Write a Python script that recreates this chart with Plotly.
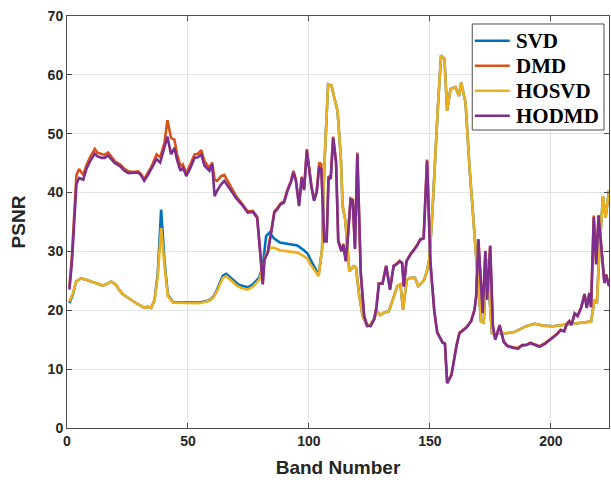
import plotly.graph_objects as go

# ---- PSNR per spectral band for the four decomposition methods ----
bands_hodmd = [1, 2, 3.9, 5, 6.7, 8, 9.5, 11.5, 12.5, 14.3, 15.5, 17, 18, 19.8, 21.9, 23.5,
               25.3, 27.5, 29.4, 30.5, 31.9, 33.5, 34.9, 37, 38.5, 40.3, 41.5, 43, 44.4, 45.5,
               46.9, 47.9, 49.3, 51, 52.7, 54.1, 55.5, 56.8, 58.9, 60, 61, 62, 63.7, 65, 67.8,
               70, 72, 74.7, 76.8, 78.6, 79.8, 80.9, 81.6, 83, 84.3, 85.7, 87, 88.3, 89.7, 91.1,
               92.5, 93.6, 94.6, 95.9, 97, 98, 99.1, 100.1, 101, 102.1, 103.2, 104.2, 105.1,
               106.3, 107.3, 108.1, 109, 110, 111.2, 112.1, 113.4, 114.2, 115.2, 116.2, 117.2,
               118.1, 119, 120, 121.4, 122.8, 124, 125.5, 127, 127.9, 128.9, 130.4, 131.9,
               133.5, 135, 136.2, 137.5, 138.5, 139.2, 140.3, 142, 143.5, 144.7, 146, 147.4,
               148.8, 150.2, 151.8, 153, 155.2, 156.2, 157.1, 158.9, 161, 162.2, 165, 167,
               168.4, 169.1, 170, 171.1, 171.8, 172.9, 173.6, 174.9, 176, 177, 178.8, 180.5,
               182, 184.5, 186.5, 188, 190, 191.5, 193, 195.3, 197.5, 199.5, 201, 202.5, 204,
               205.5, 206.5, 207.6, 208.5, 209.8, 211, 212.5, 213.9, 214.8, 215.9, 216.6,
               217.7, 218.7, 219.7, 221.1, 222.1, 222.8, 224]

hodmd = [23.5, 28.0, 41.4, 42.5, 42.2, 44.0, 45.3, 46.6, 46.2, 45.9, 45.9, 46.3, 45.8, 45.0,
         44.5, 43.8, 43.3, 43.3, 43.4, 43.0, 42.0, 43.0, 44.0, 45.7, 45.1, 47.5, 49.5, 46.5,
         47.6, 45.5, 43.7, 44.2, 42.8, 44.2, 45.9, 46.0, 46.5, 44.6, 43.7, 44.8, 39.4, 40.3,
         41.4, 42.0, 40.3, 39.0, 38.1, 36.6, 36.7, 35.7, 30.0, 24.4, 28.6, 29.8, 33.0, 36.6,
         37.2, 38.0, 38.3, 40.3, 41.7, 43.4, 42.0, 37.7, 42.5, 40.4, 47.1, 43.7, 41.0, 38.6,
         40.0, 44.2, 44.0, 31.7, 31.7, 42.6, 42.3, 49.3, 45.1, 31.7, 30.0, 31.1, 28.3, 33.0,
         38.8, 38.6, 30.4, 46.5, 26.3, 19.0, 17.4, 17.3, 18.5, 20.5, 24.5, 24.5, 27.5, 23.5,
         27.5, 27.8, 28.3, 28.0, 24.0, 28.3, 29.5, 30.3, 31.0, 32.0, 32.2, 45.4, 28.0, 19.8,
         16.2, 14.5, 14.3, 7.6, 9.0, 14.0, 16.1, 17.0, 18.1, 20.0, 22.3, 32.0, 24.6, 19.5,
         30.0, 21.8, 30.9, 17.3, 15.0, 17.4, 14.6, 13.9, 13.6, 13.5, 14.0, 14.1, 14.4, 14.2,
         13.8, 14.3, 14.9, 15.3, 15.9, 16.6, 16.4, 17.6, 18.1, 17.5, 19.4, 19.0, 20.4, 22.7,
         20.4, 22.9, 20.5, 35.8, 27.8, 36.0, 28.6, 24.6, 26.0, 24.1]

dmd = [24.0, 29.0, 43.0, 44.0, 43.0, 44.6, 46.0, 47.4, 46.8, 46.5, 46.4, 46.8, 46.2, 45.3,
       44.8, 44.1, 43.6, 43.5, 43.6, 43.2, 42.3, 43.3, 44.4, 46.5, 46.0, 48.5, 52.3, 49.3,
       49.0, 46.5, 44.5, 44.8, 43.3, 44.8, 46.5, 46.6, 47.2, 45.3, 44.2, 45.1, 42.2, 42.0,
       42.8, 43.0, 40.8, 39.3, 38.3, 36.8, 36.9, 35.9, 30.2, 24.6, 28.8, 30.0, 33.2, 36.8,
       37.4, 38.2, 38.5, 40.5, 41.9, 43.7, 42.2, 37.9, 42.7, 40.6, 47.4, 43.9, 41.2, 38.8,
       40.2, 45.1, 44.8, 31.9, 31.9, 42.8, 42.5, 49.5, 45.3, 31.9, 30.2, 31.3, 28.5, 33.2,
       39.0, 38.8, 30.6, 46.8, 26.5, 19.1, 17.5, 17.4, 18.6, 20.6, 24.6, 24.6, 27.6, 23.6,
       27.6, 27.9, 28.4, 28.1, 24.1, 28.4, 29.6, 30.4, 31.1, 32.1, 32.3, 45.6, 28.1, 19.9,
       16.3, 14.6, 14.4, 7.7, 9.1, 14.1, 16.2, 17.1, 18.2, 20.1, 22.4, 32.1, 24.7, 19.6,
       30.1, 21.9, 31.0, 17.4, 15.1, 17.5, 14.7, 14.0, 13.7, 13.6, 14.1, 14.2, 14.5, 14.3,
       13.9, 14.4, 15.0, 15.4, 16.0, 16.7, 16.5, 17.7, 18.2, 17.6, 19.5, 19.1, 20.5, 22.8,
       20.5, 23.0, 20.6, 36.1, 27.9, 36.2, 28.7, 24.7, 26.1, 24.2]

bands_hosvd = [1, 2.5, 3.8, 5.8, 7.9, 10.7, 14.8, 16.5, 18.3, 20.3, 21.5, 23.1, 25.8, 28.6, 32,
               33.4, 34.8, 36.2, 37.5, 38.9, 40.3, 41.7, 43.8, 49.3, 54.8, 58.9, 60.5, 61.6,
               63, 64.4, 65.8, 68.5, 70.5, 72, 74.7, 76.8, 78.5, 79.5, 80.9, 82.3, 83.7, 85.6,
               88, 91.1, 95.2, 97.9, 99.5, 100.6, 102, 103.4, 104, 105.4, 106.3, 107.9, 109.3,
               110.4, 111.8, 113.2, 113.9, 115, 116.7, 118.5, 119.4, 120.8, 122.2, 124, 125.4,
               126.8, 128.2, 129.5, 130.9, 133, 134.3, 136.5, 137.8, 138.9, 140.4, 142, 143.8,
               145.1, 146.5, 147.6, 148.7, 149.7, 150.8, 151.8, 153.2, 154.6, 156, 157.1,
               158.5, 160.6, 162, 162.9, 164.7, 166.4, 169.1, 171.1, 172.2, 173.5, 174.6,
               175.6, 177, 181.5, 184.8, 187, 189.8, 193.3, 196.7, 200.8, 206.3, 210.4, 216.6,
               218, 219, 220, 221.5, 222.6, 224]

hosvd = [21.5, 23.0, 24.9, 25.4, 25.2, 24.8, 24.2, 24.5, 24.9, 24.3, 23.5, 22.7, 21.9, 21.2,
         20.4, 20.6, 20.4, 21.7, 25.8, 34.0, 27.5, 22.4, 21.3, 21.2, 21.2, 21.6, 22.2, 22.9,
         24.3, 25.5, 25.8, 24.9, 24.1, 23.8, 23.5, 24.0, 24.7, 25.2, 27.2, 29.5, 30.6, 30.6,
         30.2, 30.0, 29.8, 29.2, 28.7, 27.8, 27.0, 26.1, 25.8, 30.3, 44.0, 58.4, 58.2, 56.2,
         53.9, 45.7, 37.7, 35.4, 26.6, 27.5, 27.3, 22.4, 19.0, 17.3, 17.6, 18.5, 19.8, 19.2,
         19.6, 19.8, 21.5, 24.1, 24.4, 20.1, 25.2, 25.5, 25.5, 24.1, 24.6, 25.2, 26.5, 28.6,
         35.0, 44.0, 54.0, 63.3, 62.7, 53.9, 57.6, 57.9, 56.4, 58.7, 55.3, 44.0, 28.1, 18.1,
         17.9, 28.6, 22.3, 16.1, 16.1, 16.1, 16.3, 16.7, 17.3, 17.7, 17.4, 17.3, 17.6, 17.7,
         18.1, 21.8, 21.2, 29.8, 39.4, 35.8, 40.4]

svd = [21.2, 22.8, 24.9, 25.4, 25.2, 24.8, 24.2, 24.5, 24.9, 24.3, 23.5, 22.7, 21.9, 21.2,
       20.4, 20.6, 20.4, 21.8, 26.3, 37.1, 28.3, 22.6, 21.4, 21.3, 21.3, 21.7, 22.3, 23.1,
       24.6, 25.9, 26.2, 25.3, 24.5, 24.2, 23.9, 24.4, 25.1, 25.6, 27.6, 32.6, 33.2, 32.2,
       31.5, 31.3, 31.0, 30.2, 29.6, 28.6, 27.6, 26.6, 26.0, 30.3, 44.0, 58.4, 58.2, 56.2,
       53.9, 45.7, 37.7, 35.4, 26.6, 27.5, 27.3, 22.4, 19.0, 17.3, 17.6, 18.5, 19.8, 19.2,
       19.6, 19.8, 21.5, 24.1, 24.4, 20.1, 25.2, 25.5, 25.5, 24.1, 24.6, 25.2, 26.5, 28.6,
       35.0, 44.0, 54.0, 63.3, 62.7, 53.9, 57.6, 57.9, 56.4, 58.7, 55.3, 44.0, 28.1, 18.1,
       17.9, 28.6, 22.3, 16.1, 16.1, 16.1, 16.3, 16.7, 17.3, 17.7, 17.4, 17.3, 17.6, 17.7,
       18.1, 21.8, 21.2, 29.8, 39.4, 35.8, 40.4]

assert len(bands_hodmd) == len(hodmd) == len(dmd)
assert len(bands_hosvd) == len(hosvd) == len(svd)

x_ticks = [0, 50, 100, 150, 200]
y_ticks = [0, 10, 20, 30, 40, 50, 60, 70]

series = [
    ("SVD", bands_hosvd, svd, "#0072BD"),
    ("DMD", bands_hodmd, dmd, "#D95319"),
    ("HOSVD", bands_hosvd, hosvd, "#EDB120"),
    ("HODMD", bands_hodmd, hodmd, "#7E2F8E"),
]

fig = go.Figure()
for name, xs, ys, color in series:
    fig.add_trace(go.Scatter(x=xs, y=ys, mode="lines", name=name,
                             line=dict(color=color, width=2.6), showlegend=False))

axis_font = dict(family="Liberation Sans, Arial", size=14, color="#262626", weight="bold")
axis_common = dict(
    showline=True, linecolor="#4d4d4d", linewidth=1, mirror="ticks",
    ticks="inside", ticklen=5, tickcolor="#4d4d4d", tickwidth=1,
    showgrid=True, gridcolor="#e3e3e3", gridwidth=1,
    zeroline=False, tickfont=axis_font,
)
title_font = dict(family="Liberation Sans, Arial", size=19, color="#262626", weight="bold")

fig.update_xaxes(range=[0, 224], tickvals=x_ticks,
                 title=dict(text="Band Number", standoff=12, font=title_font),
                 **axis_common)
fig.update_yaxes(range=[0, 70], tickvals=y_ticks,
                 title=dict(text="PSNR", standoff=16, font=title_font),
                 **axis_common)

# Compact boxed legend in the upper-right corner of the axes
box_x0, box_x1 = 0.7477, 0.9908
box_y0, box_y1 = 0.7233, 0.9806
row_y = [0.9400, 0.8793, 0.8186, 0.7580]
line_x0, line_x1, text_x = 0.7525, 0.8170, 0.8250

shapes = [dict(type="rect", xref="paper", yref="paper",
               x0=box_x0, x1=box_x1, y0=box_y0, y1=box_y1,
               line=dict(color="#4d4d4d", width=1), fillcolor="white", layer="above")]
annotations = []
for (name, _, _, color), ry in zip(series, row_y):
    shapes.append(dict(type="line", xref="paper", yref="paper",
                       x0=line_x0, x1=line_x1, y0=ry, y1=ry,
                       line=dict(color=color, width=2.6), layer="above"))
    annotations.append(dict(xref="paper", yref="paper", x=text_x, y=ry,
                            xanchor="left", yanchor="middle", showarrow=False,
                            text=name,
                            font=dict(family="Liberation Serif, Times New Roman",
                                      size=21, color="black", weight="bold")))

fig.update_layout(
    width=611, height=484,
    margin=dict(l=67, r=2, t=16, b=56),
    paper_bgcolor="white", plot_bgcolor="white",
    showlegend=False,
    shapes=shapes,
    annotations=annotations,
)

fig.write_html("out.html")
